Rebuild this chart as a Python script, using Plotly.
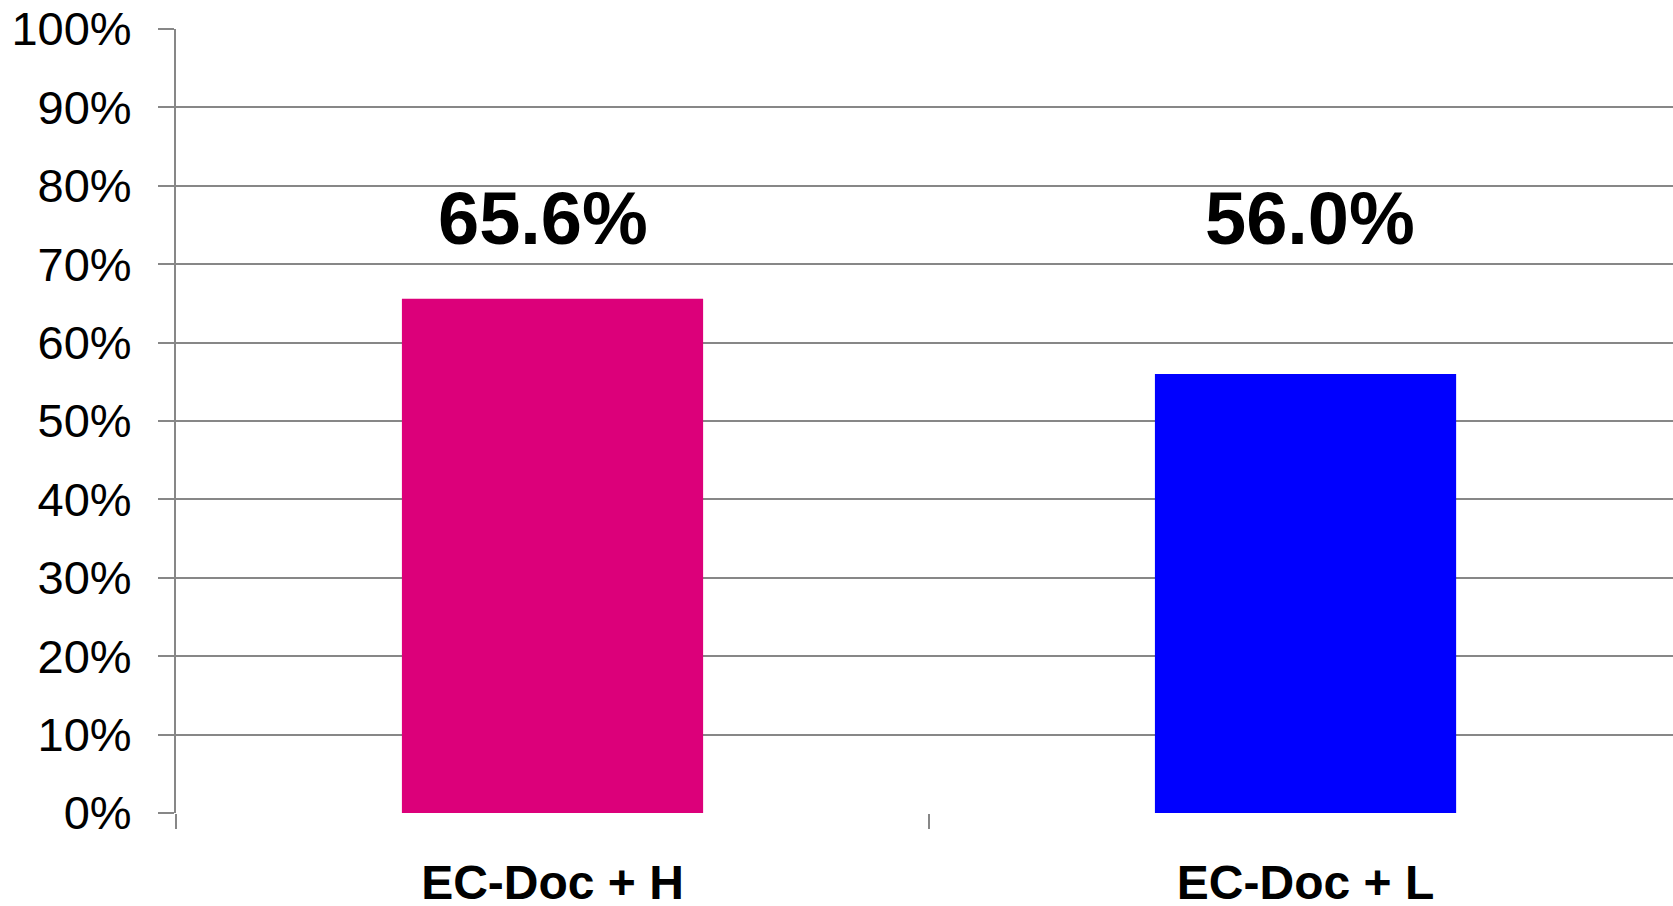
import plotly.graph_objects as go

# Response rate by treatment arm
categories = ["EC-Doc + H", "EC-Doc + L"]
response_pct = [65.6, 56.0]
value_labels = ["65.6%", "56.0%"]
bar_colors = ["#DC007A", "#0000FF"]
y_ticks = [0, 10, 20, 30, 40, 50, 60, 70, 80, 90, 100]
y_tick_labels = [f"{v}%" for v in y_ticks]

GRID = "#878787"
FONT = "Liberation Sans, Arial, sans-serif"

fig = go.Figure()
fig.add_trace(go.Bar(
    x=categories,
    y=response_pct,
    marker=dict(color=bar_colors, line=dict(width=0)),
    width=0.4,
    hoverinfo="skip",
))

# Value labels sit on a common baseline above both bars
label_shift = [-10, 4]
for cat, lab, dx in zip(categories, value_labels, label_shift):
    fig.add_annotation(
        x=cat, y=75.8, text=f"<b>{lab}</b>", showarrow=False,
        xanchor="center", yanchor="middle", xshift=dx,
        font=dict(family=FONT, size=74, color="black"),
    )

fig.update_layout(
    width=1673, height=906,
    margin=dict(l=176, r=0, t=29, b=93),
    paper_bgcolor="white", plot_bgcolor="white",
    showlegend=False,
    bargap=0.6,
)
fig.update_xaxes(
    type="category",
    range=[-0.5, 1.488],
    automargin=False,
    tickson="boundaries",
    ticks="outside", ticklen=15, tickwidth=2, tickcolor=GRID,
    showline=False, showgrid=False, zeroline=False,
    tickfont=dict(family=FONT, size=48, color="black"),
    tickvals=categories,
    ticktext=[f"<b>{c}</b>" for c in categories],
    ticklabelstandoff=37,
)
fig.update_yaxes(
    range=[0, 100],
    automargin=False,
    tickvals=y_ticks, ticktext=y_tick_labels,
    ticks="outside", ticklen=16, tickwidth=2, tickcolor=GRID,
    showgrid=True, gridcolor=GRID, gridwidth=2,
    showline=True, linecolor=GRID, linewidth=2,
    zeroline=False,
    tickfont=dict(family=FONT, size=47, color="black"),
    ticklabelstandoff=17,
)

fig.write_html("out.html")
